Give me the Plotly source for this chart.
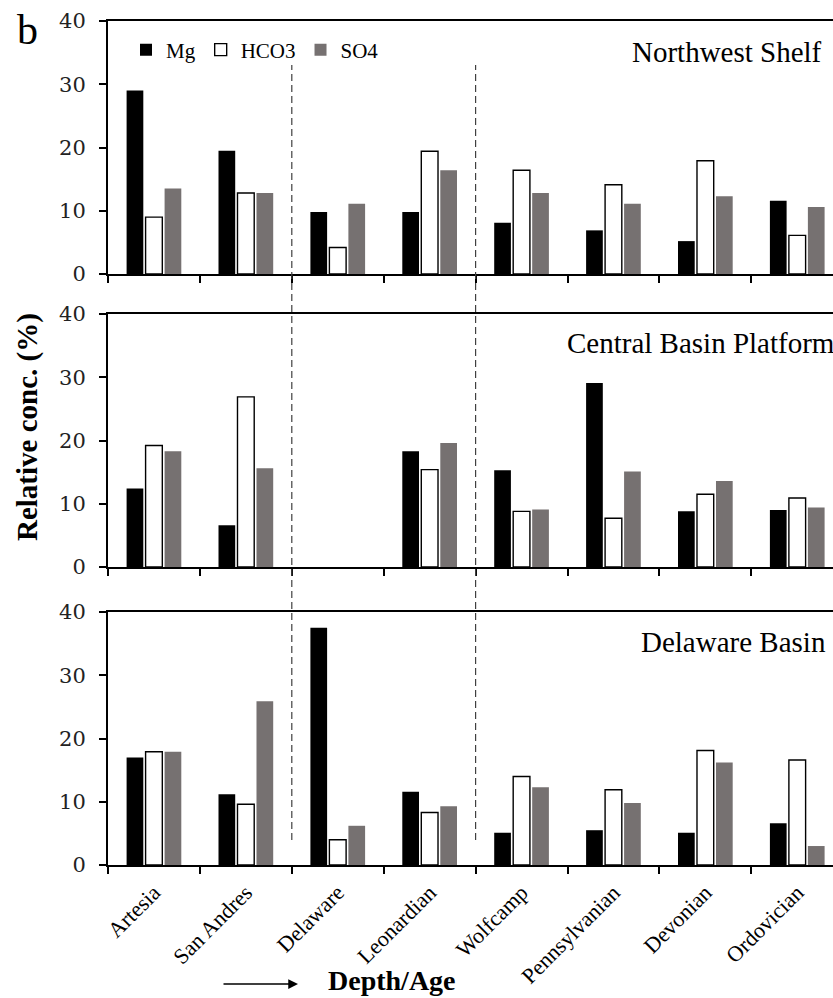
import plotly.graph_objects as go

# Formations, ordered by increasing depth / age
formations = ["Artesia", "San Andres", "Delaware", "Leonardian",
              "Wolfcamp", "Pennsylvanian", "Devonian", "Ordovician"]
regions = ["Northwest Shelf", "Central Basin Platform", "Delaware Basin"]
ions = ["Mg", "HCO3", "SO4"]

# Relative concentration (%) per region and ion
mg_nws = [29.0, 19.5, 9.8, 9.8, 8.1, 6.9, 5.2, 11.6]
hco3_nws = [9.0, 12.8, 4.2, 19.4, 16.4, 14.1, 17.9, 6.1]
so4_nws = [13.5, 12.8, 11.1, 16.4, 12.8, 11.1, 12.3, 10.6]

mg_cbp = [12.4, 6.6, None, 18.3, 15.3, 29.1, 8.8, 9.0]
hco3_cbp = [19.2, 26.9, None, 15.4, 8.8, 7.7, 11.5, 10.9]
so4_cbp = [18.3, 15.6, None, 19.6, 9.1, 15.1, 13.6, 9.4]

mg_db = [17.0, 11.2, 37.5, 11.6, 5.1, 5.5, 5.1, 6.6]
hco3_db = [17.9, 9.6, 4.0, 8.3, 14.0, 11.9, 18.1, 16.6]
so4_db = [17.9, 25.9, 6.2, 9.3, 12.3, 9.8, 16.2, 3.0]

panel_values = [
    (mg_nws, hco3_nws, so4_nws),
    (mg_cbp, hco3_cbp, so4_cbp),
    (mg_db, hco3_db, so4_db),
]

SERIF = "Liberation Serif, Times New Roman, serif"
NUM_FONT = "DejaVu Serif, serif"
fills = {"Mg": "#000000", "HCO3": "#ffffff", "SO4": "#767171"}
outlines = {"Mg": 0, "HCO3": 1.4, "SO4": 0}

W, H = 833, 998
L, R, T, B = 108, 0, 21, 133
plot_h = H - T - B
plot_w = W - L - R


def py(px):
    """pixel row -> paper y"""
    return (H - B - px) / plot_h


def px_x(px):
    """pixel column -> paper x"""
    return (px - L) / plot_w


# panel extents (pixel rows of the 40 and 0 lines)
panel_rows = [(21, 274), (314, 567), (612, 865)]

fig = go.Figure()
for i, vals in enumerate(panel_values):
    xa = "x" if i == 0 else f"x{i + 1}"
    ya = "y" if i == 0 else f"y{i + 1}"
    for ion, v in zip(ions, vals):
        fig.add_trace(go.Bar(
            x=formations, y=v, name=ion, xaxis=xa, yaxis=ya,
            legendgroup=ion, showlegend=(i == 0),
            marker=dict(color=fills[ion],
                        line=dict(color="#000000", width=outlines[ion])),
        ))

cat_w = 91.9
x_range = [-0.5, -0.5 + plot_w / cat_w]

layout = dict(
    width=W, height=H,
    margin=dict(l=L, r=R, t=T, b=B, pad=0, autoexpand=False),
    paper_bgcolor="white", plot_bgcolor="white",
    barmode="group", bargap=0.38, bargroupgap=0.12,
    font=dict(family=SERIF, color="#000000"),
    legend=dict(orientation="h", x=px_x(126), y=py(50), xanchor="left",
                yanchor="middle", font=dict(family=SERIF, size=21),
                bgcolor="rgba(0,0,0,0)", traceorder="normal",
                itemwidth=30, tracegroupgap=0),
)

for i, (top, bot) in enumerate(panel_rows):
    xk = "xaxis" if i == 0 else f"xaxis{i + 1}"
    yk = "yaxis" if i == 0 else f"yaxis{i + 1}"
    ya = "y" if i == 0 else f"y{i + 1}"
    xa = "x" if i == 0 else f"x{i + 1}"
    layout[xk] = dict(
        domain=[0, 1], anchor=ya, type="category", automargin=False,
        categoryorder="array", categoryarray=formations,
        range=x_range, tickson="boundaries",
        ticks="outside", ticklen=7, tickwidth=1.5, tickcolor="#000000",
        showline=True, linecolor="#000000", linewidth=2, mirror=True,
        showgrid=False, zeroline=False,
        showticklabels=(i == 2), tickangle=-45, ticklabelstandoff=4,
        tickfont=dict(family=SERIF, size=22, color="#000000"),
    )
    layout[yk] = dict(
        domain=[py(bot), py(top)], anchor=xa, range=[0, 40], dtick=10,
        automargin=False,
        ticks="outside", ticklen=7, tickwidth=1.5, tickcolor="#000000",
        showline=True, linecolor="#000000", linewidth=2,
        showgrid=False, zeroline=False, ticklabelstandoff=9,
        tickfont=dict(family=NUM_FONT, size=21, color="#222222"),
    )

fig.update_layout(**layout)

# region names inside each panel
region_pos = [(630, 52), (565, 343), (639, 642)]
for name, (xp, yp) in zip(regions, region_pos):
    fig.add_annotation(text=name, xref="paper", yref="paper",
                       x=px_x(xp), y=py(yp), xanchor="left", yanchor="middle",
                       showarrow=False, font=dict(family=SERIF, size=29))

# dashed separators between formation groups
for xb in [1.5, 3.5]:
    fig.add_shape(type="line", xref="x3", yref="paper",
                  x0=xb, x1=xb, y0=py(840), y1=py(65),
                  line=dict(color="#404040", width=1.2, dash="7px,4px"))

# panel letter
fig.add_annotation(text="b", xref="paper", yref="paper",
                   x=px_x(15), y=py(30), xanchor="left", yanchor="middle",
                   showarrow=False, font=dict(family=SERIF, size=42))

# shared y title
fig.add_annotation(text="<b>Relative conc. (%)</b>", xref="paper", yref="paper",
                   x=px_x(27), y=py(427), xanchor="center", yanchor="middle",
                   textangle=-90, showarrow=False,
                   font=dict(family=SERIF, size=29))

# depth/age arrow and label
fig.add_annotation(text="", xref="paper", yref="paper",
                   x=px_x(298), y=py(984), ax=-76, ay=0,
                   showarrow=True, arrowhead=2, arrowsize=1.3,
                   arrowwidth=1.5, arrowcolor="#000000")
fig.add_annotation(text="<b>Depth/Age</b>", xref="paper", yref="paper",
                   x=px_x(326), y=py(980), xanchor="left", yanchor="middle",
                   showarrow=False, font=dict(family=SERIF, size=28))

fig.write_html("out.html")
